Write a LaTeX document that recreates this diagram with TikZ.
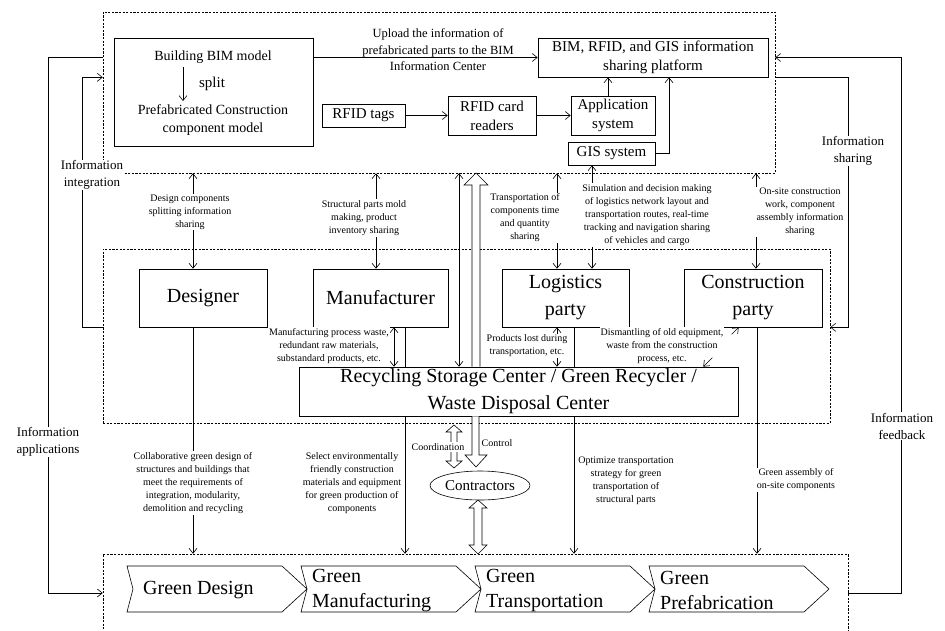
\documentclass[tikz,border=0pt]{standalone}
\usepackage{fontspec}
\setmainfont{Liberation Serif}
\usetikzlibrary{arrows.meta, shapes.geometric, positioning}

\tikzset{
  zone/.style={draw, dash pattern=on 2.2pt off 1.4pt, line width=0.5pt, inner sep=0pt},
  box/.style={draw, line width=0.6pt, align=center, inner sep=0pt, fill=white},
  tag/.style={align=center, inner sep=1pt, fill=white, font=\fontsize{10}{13}\selectfont},
  side/.style={align=center, inner sep=1pt, fill=white, font=\fontsize{13}{17}\selectfont},
  arr/.style={line width=0.6pt, -{Straight Barb[length=5pt,width=8pt]}},
  darr/.style={line width=0.6pt, {Straight Barb[length=5pt,width=8pt]}-{Straight Barb[length=5pt,width=8pt]}},
  hollow/.style={line width=0.6pt, fill=white},
  big/.style={font=\fontsize{20}{27}\selectfont},
  mid/.style={font=\fontsize{15}{19}\selectfont},
}

\begin{document}
\begin{tikzpicture}[x=1pt, y=-1pt]
\useasboundingbox (0,0) rectangle (945,630);

%zones
\node[zone, minimum width=672, minimum height=161] (top) at (439,92.5) {};
\node[zone, minimum width=727, minimum height=174] (midzone) at (466.5,336) {};
\node[zone, minimum width=745, minimum height=100] (bot) at (475.5,604) {};

%information platform
\node[box, minimum width=199, minimum height=108] (bim) at (213.5,92) {};
\node[font=\fontsize{14}{18}\selectfont] (bimtxt) at (213,57) {Building BIM model};
\node[font=\fontsize{14}{18}\selectfont, align=center] (prefab) at (213,120) {Prefabricated Construction\\component model};
\node[mid] (split) at (212,84) {split};
\draw[arr] (bimtxt.south -| 183,0) -- (prefab.north -| 183,0);

\node[font=\fontsize{12.5}{16.5}\selectfont, align=center] (upload) at (438,50) {Upload the information of\\prefabricated parts to the BIM\\Information Center};
\node[box, mid, minimum width=230, minimum height=39] (platform) at (653,57.5) {BIM, RFID, and GIS information\\sharing platform};
\node[box, mid, minimum width=83, minimum height=23] (tags) at (363.5,115.5) {RFID tags};
\node[box, mid, minimum width=88, minimum height=39] (readers) at (492,115.5) {RFID card\\readers};
\node[box, mid, minimum width=84, minimum height=39] (appsys) at (613,115.5) {Application\\system};
\node[box, mid, minimum width=87, minimum height=23] (gis) at (611.5,153.5) {GIS system};

\draw[arr] (bim.east |- platform.west) -- (platform.west);
\draw[arr] (tags) -- (readers);
\draw[arr] (readers) -- (appsys);
\draw[arr] ([xshift=-5pt]appsys.north) -- ([xshift=-5pt]appsys.north |- platform.south);
\draw[arr] (gis.east) -| ([xshift=16pt]platform.south);

%participants
\node[box, big, minimum width=128, minimum height=58] (designer) at (203,298) {Designer};
\node[box, big, minimum width=135, minimum height=58] (manuf) at (380.5,298) {Manufacturer};
\node[box, big, minimum width=127, minimum height=58] (logist) at (565.5,298) {Logistics\\party};
\node[box, big, minimum width=138, minimum height=58] (construct) at (753,298) {Construction\\party};

%down to the green stages
\draw[arr] (designer.south -| 193,0) -- (bot.north -| 193,0);
\draw[arr] (manuf.south -| 405,0) -- (bot.north -| 405,0);
\draw[arr] (logist.south -| 574,0) -- (bot.north -| 574,0);
\draw[arr] (construct.south -| 757,0) -- (bot.north -| 757,0);

\node[box, big, minimum width=439, minimum height=49] (recyc) at (518.5,391.5) {Recycling Storage Center / Green Recycler /\\Waste Disposal Center};

%sharing arrows
\draw[darr] (top.south -| 193,0) -- (designer.north -| 193,0);
\draw[darr] (top.south -| 376,0) -- (manuf.north -| 376,0);
\draw[darr] (top.south -| 459,0) -- (recyc.north -| 459,0);
\draw[darr] (top.south -| 557,0) -- (logist.north -| 557,0);
\draw[darr] (gis.south -| 592,0) -- (logist.north -| 592,0);
\draw[darr] (top.south -| 756,0) -- (construct.north -| 756,0);
\draw[darr] (manuf.south -| 394,0) -- (recyc.north -| 394,0);
\draw[darr] (logist.south -| 557,0) -- (recyc.north -| 557,0);

%labels
\node[tag] (lbldes) at (190,212) {Design components\\splitting information\\sharing};
\node[tag] (lblman) at (364,218) {Structural parts mold\\making, product\\inventory sharing};
\node[tag] (lbltime) at (525,218) {Transportation of\\components time\\and quantity\\sharing};
\node[tag] (lblgis) at (647,215) {Simulation and decision making\\of logistics network layout and\\transportation routes, real-time\\tracking and navigation sharing\\of vehicles and cargo};
\node[tag] (lblsite) at (800,212) {On-site construction\\work, component\\assembly information\\sharing};
\node[tag] (lblwaste) at (329,346) {Manufacturing process waste,\\redundant raw materials,\\substandard products, etc.};
\node[tag] (lbllost) at (527,346) {Products lost during\\transportation, etc.};
\node[tag] (dism) at (662,346) {Dismantling of old equipment,\\waste from the construction\\process, etc.};
\node[tag] (lblgd) at (193,483) {Collaborative green design of\\structures and buildings that\\meet the requirements of\\integration, modularity,\\demolition and recycling};
\node[tag] (lblgm) at (352,483) {Select environmentally\\friendly construction\\materials and equipment\\for green production of\\components};
\node[tag] (lblgt) at (626,481) {Optimize transportation\\strategy for green\\transportation of\\structural parts};
\node[tag] (lblgp) at (796,480) {Green assembly of\\on-site components};

\draw[arr] ([xshift=48pt,yshift=-7pt]construct.south west) -- ([xshift=55pt]construct.south west);
\draw[arr] ([xshift=-26pt,yshift=9pt]recyc.north east) -- ([xshift=-35pt]recyc.north east);

%hollow arrows
\draw[hollow] (recyc.north -| 472,0) -- (472,185) -- (464,185) -- (476,173) -- (488,185) -- (480,185) -- (recyc.north -| 480,0);
\draw[hollow] (recyc.south -| 472,0) -- (472,455) -- (465,455) -- (476,467) -- (487,455) -- (479,455) -- (recyc.south -| 479,0);
\draw[hollow] (454,425) -- (462,432) -- (457,432) -- (457,461) -- (462,461) -- (454,468) -- (446,461) -- (451,461) -- (451,432) -- (446,432) -- cycle;
\node[draw, ellipse, line width=0.6pt, minimum width=100, minimum height=29, inner sep=0pt, mid] (contr) at (480,485.5) {Contractors};
\draw[hollow] (478,500) -- (487,508) -- (482,508) -- (482,545) -- (487,545) -- (478,554) -- (469,545) -- (474,545) -- (474,508) -- (469,508) -- cycle;
\node[tag] (coord) at (438,447) {Coordination};
\node[tag, fill=none] (ctrl) at (497,443) {Control};

%green stages
\foreach \i/\txt/\dx in {0/{Green Design}/16, 1/{Green\\Manufacturing}/11, 2/{Green\\Transportation}/11, 3/{Green\\Prefabrication}/11} {
  \pgfmathsetmacro\xl{127+174*\i}
  \draw[line width=0.6pt] (\xl,566) -- ++(155,0) -- ++(25,23) -- ++(-25,23) -- ++(-155,0) -- ++(6,-23) -- cycle;
  \node[anchor=west, align=left, inner sep=0pt, font=\fontsize{20}{25}\selectfont] (stage\i) at (\xl+\dx,590.5) {\txt};
}

%side loops
\draw[arr] (top.west |- platform.west) -- ++(-54,0) |- (bot.west |- 0,593);
\draw[arr] (midzone.west |- designer.south) -- ++(-20,0) |- (top.west |- platform.south);
\draw[arr] (top.east |- platform.south) -- ++(73,0) |- (midzone.east |- construct.south);
\draw[arr] (bot.east |- 0,593) -- ++(53,0) |- (top.east |- platform.west);
\node[side] (integ) at (92,175) {Information\\integration};
\node[side] (apps) at (48,442) {Information\\applications};
\node[side] (share) at (853,151) {Information\\sharing};
\node[side] (fback) at (902,426) {Information\\feedback};

\end{tikzpicture}
\end{document}
